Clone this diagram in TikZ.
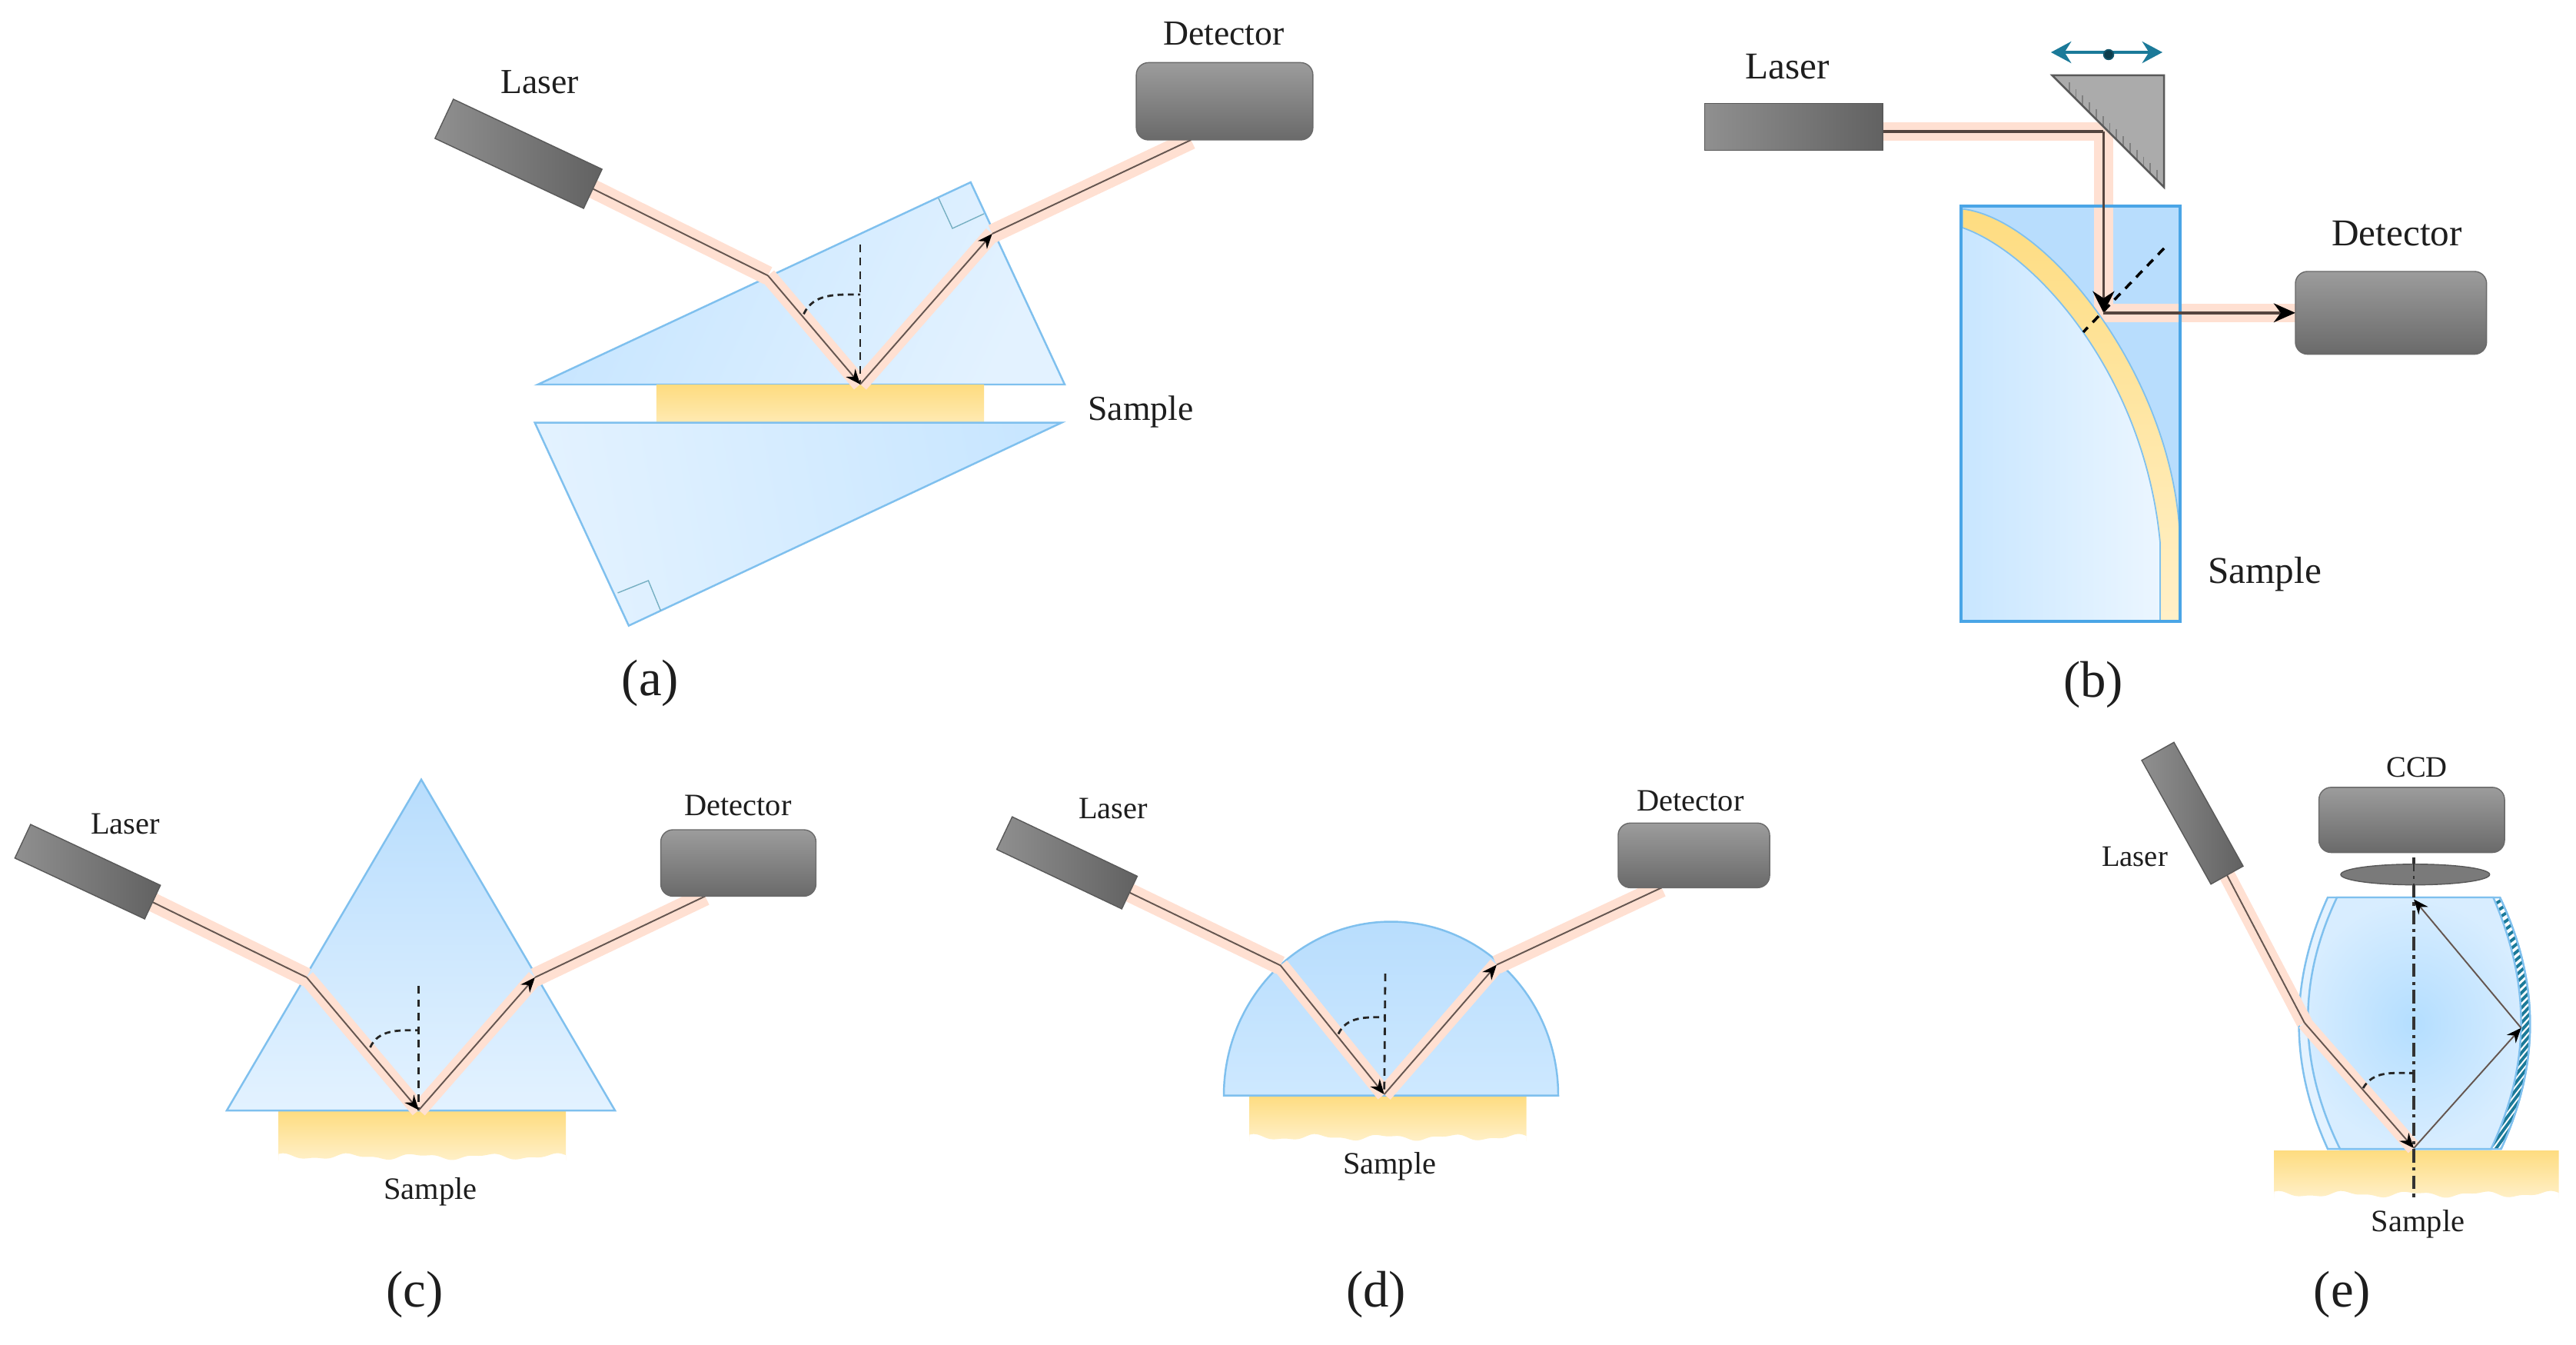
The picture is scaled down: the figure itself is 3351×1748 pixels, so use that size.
\documentclass[tikz,border=0pt]{standalone}
\usepackage{fontspec}
\setmainfont{Liberation Serif}
\usetikzlibrary{arrows.meta,shapes.geometric,calc}
\definecolor{beamc}{HTML}{FFE0D2}
\definecolor{raylc}{HTML}{655650}
\definecolor{raybc}{HTML}{54453F}
\definecolor{glassb}{HTML}{7FC0EE}
\definecolor{glassr}{HTML}{4AA5E6}
\definecolor{glassd}{HTML}{B8DDFD}
\definecolor{glassm}{HTML}{C8E6FF}
\definecolor{glassl}{HTML}{E3F2FF}
\definecolor{glassc}{HTML}{B4DEFF}
\definecolor{ya}{HTML}{FEDC80}
\definecolor{yb}{HTML}{FFF0C8}
\definecolor{tealc}{HTML}{1B7A99}
\definecolor{txt}{HTML}{1E1E1E}
\definecolor{graya}{HTML}{9C9C9C}
\definecolor{grayb}{HTML}{6A6A6A}
\pgfdeclarelayer{bg}
\pgfsetlayers{bg,main}
\tikzset{
  bsize/.style 2 args={minimum width=#1*0.2845pt,minimum height=#2*0.2845pt},
  detbox/.style={rectangle,rounded corners=4.5pt,inner sep=0,outer sep=0,top color=graya,bottom color=grayb,draw=grayb,line width=.4pt},
  laserbox/.style={rectangle,inner sep=0,outer sep=0,left color=graya!92!black,right color=grayb!92!black,draw=black!65,line width=.4pt},
  lab/.style={font=\fontsize{#1}{#1}\selectfont,text=txt,inner sep=0},
  subcap/.style={font=\fontsize{19}{19}\selectfont,text=txt,inner sep=0},
  glass/.style={draw=glassb,line width=.7pt},
  beamout/.style={draw=beamc,line width=7pt},
  beamin/.style={draw=beamc,line width=6pt},
  rayl/.style={draw=raylc,line width=.55pt},
  rayar/.style={draw=raylc,line width=.55pt,-{Stealth[length=5.5pt,width=4.5pt,black]}},
  normalln/.style={draw=black!85,line width=.8pt,dash pattern=on 2.8pt off 2.2pt},
  anglearc/.style={draw=black!85,line width=.8pt,dash pattern=on 2.2pt off 1.6pt},
  rightang/.style={draw=tealc!60,line width=.4pt},
}
\newcommand{\samplepatch}[4]{%
  \shade[top color=ya,bottom color=yb] (#1,#3) -- (#2,#3) -- (#2,#4)
    -- plot[domain=0:1,samples=70,smooth] ({#2+(#1-#2)*\x},{#4-5-3*sin(\x*1500+40)-1.5*sin(\x*3400)})
    -- (#1,#4) -- cycle;}
\begin{document}
\begin{tikzpicture}[x=0.01cm,y=-0.01cm]
\useasboundingbox (0,0) rectangle (3351,1748);

% ---------- nodes ----------
\node[laserbox,bsize={213.6}{56.3},rotate=-25.2] (laserA) at (674.5,200) {};
\node[detbox,bsize={229.6}{100.5}] (detA) at (1593,131.7) {};
\node[laserbox,bsize={231.4}{60.8}] (laserB) at (2333.3,165) {};
\node[detbox,bsize={248.6}{107.6}] (detB) at (3110.3,406.8) {};
\node[laserbox,bsize={186.4}{48.3},rotate=-25.1] (laserC) at (114,1133.5) {};
\node[detbox,bsize={201.8}{86.4}] (detC) at (960.5,1122.2) {};
\node[laserbox,bsize={180}{47},rotate=-25.4] (laserD) at (1388,1122) {};
\node[detbox,bsize={197}{84}] (detD) at (2203.5,1112.3) {};
\node[laserbox,bsize={184.4}{48},rotate=-60.8] (laserE) at (2852,1057.5) {};
\node[detbox,bsize={241.3}{84.7}] (ccd) at (3137.3,1066.2) {};
\node[ellipse,inner sep=0,outer sep=0,fill=black!52,draw=black!65,line width=.4pt,bsize={193.6}{26.9}] (lens) at (3141.8,1137.2) {};

% ---------- labels ----------
\node[lab=13] (tLaserA) at (702,107) {Laser};
\node[lab=13] (tDetA) at (1592,43.4) {Detector};
\node[lab=13] (tSamA) at (1484,535) {Sample};
\node[lab=14] (tLaserB) at (2325,87) {Laser};
\node[lab=14] (tDetB) at (3118,304) {Detector};
\node[lab=14] (tSamB) at (2946,747) {Sample};
\node[lab=11.5] (tLaserC) at (163,1071) {Laser};
\node[lab=11.5] (tDetC) at (960,1047) {Detector};
\node[lab=11.5] (tSamC) at (560,1550) {Sample};
\node[lab=11.5] (tLaserD) at (1448,1051) {Laser};
\node[lab=11.5] (tDetD) at (2199,1041.4) {Detector};
\node[lab=11.5] (tSamD) at (1807.7,1517) {Sample};
\node[lab=11] (tLaserE) at (2777,1114) {Laser};
\node[lab=11] (tCcd) at (3144,998) {CCD};
\node[lab=11.5] (tSamE) at (3145.5,1592) {Sample};
\node[subcap] (capA) at (846,888) {(a)};
\node[subcap] (capB) at (2723,890) {(b)};
\node[subcap] (capC) at (539.5,1683) {(c)};
\node[subcap] (capD) at (1790,1683) {(d)};
\node[subcap] (capE) at (3047,1683) {(e)};

% ---------- mirror and mover of (b) ----------
\coordinate (mA) at (2669.5,97.8);
\coordinate (mB) at (2815,97.8);
\coordinate (mC) at (2815,243.3);
\fill[black!33] (mA) -- (mB) -- (mC) -- cycle;
\foreach \i in {0,...,13}
  \draw[black!50,line width=.5pt] ({2691.7+8.8*\i},{119.8+8.8*\i}) -- ++(0,-13);
\draw[black!65,line width=.7pt] (mA) -- (mB) -- (mC) -- cycle;
\coordinate (movL) at (2668,68);
\coordinate (movR) at (2813,68);
\draw[tealc,line width=1pt,{Stealth[length=7.5pt,width=8pt,inset=2.5pt]}-{Stealth[length=7.5pt,width=8pt,inset=2.5pt]}] (movL) -- (movR);
\node[circle,fill=tealc!50!black,draw=tealc!70!black,line width=.5pt,inner sep=0,minimum size=3.6pt] (dotB) at (2743,71) {};

% ---------- axis of (e) over the lens ----------
\coordinate (axT) at (3140,1115);
\coordinate (axB) at (3140,1557);

\begin{pgfonlayer}{bg}
\fill[white] (0,0) rectangle (3351,1748);
% ===== (a) =====
\coordinate (a1) at (999,358.4);
\coordinate (a2) at (1119,499.7);
\coordinate (a3) at (1290.7,304);
\shadedraw[glass,left color=glassm!90!glassd,right color=glassl,shading angle=65]
  (699.7,500) -- (1262.7,237) -- (1385,500) -- cycle;
\draw[rightang] (1221,258) -- (1239,297) -- (1280,278);
\shade[top color=ya,bottom color=yb!70!ya] (853.8,500.7) rectangle (1280,549.6);
\shadedraw[glass,left color=glassl,right color=glassm,shading angle=100]
  (695.7,549.6) -- (1381,549.6) -- (817.9,813.6) -- cycle;
\draw[rightang] (803.5,771) -- (843.4,755) -- (859.4,794);
\draw[beamout] (laserA.east) -- (a1);
\draw[beamin] (a1) -- (a2);
\draw[beamin] (a2) -- (a3);
\draw[beamout] (a3) -- (detA.229.5);
\draw[normalln] (1119,317.7) -- (a2);
\draw[anglearc] (1045.5,408.4) to[out=65,in=180] (1119,383);
\draw[rayl] (laserA.east) -- (a1);
\draw[rayar] (a1) -- (a2);
\draw[rayar] (a2) -- (a3);
\draw[rayl] (a3) -- (detA.229.5);

% ===== (b) =====
\coordinate (b1) at (2736.4,171);
\coordinate (b2) at (2736.4,406.8);
\fill[glassd] (2551,267.7) rectangle (2835.6,807.6);
\draw[draw=beamc,line width=7pt] (laserB.east |- b1) -- (b1) -- (b2) -- (detB.west);
\shade[left color=glassm,right color=glassl!70!white]
  (2552.7,296) .. controls (2650,330) and (2790,490) .. (2810,706)
  -- (2810,807) -- (2552,807) -- cycle;
\shadedraw[top color=ya,bottom color=yb,draw=glassb,line width=.5pt]
  (2552.7,271.6) .. controls (2665,285) and (2825,490) .. (2835.6,695)
  -- (2835.6,807) -- (2810,807) -- (2810,706)
  .. controls (2790,490) and (2650,330) .. (2552.7,296) -- cycle;
\draw[draw=glassr,line width=1.2pt] (2551,267.7) rectangle (2835.6,807.6);
\draw[draw=black,line width=1pt,dash pattern=on 3.2pt off 2.6pt] (2815,323) -- (2710,431.8);
\draw[draw=raybc,line width=1pt] (laserB.east |- b1) -- (b1);
\draw[draw=raybc,line width=1pt,-{Stealth[length=8pt,width=8pt,black]}] (b1) -- (b2);
\draw[draw=raybc,line width=1pt,-{Stealth[length=8pt,width=7pt,black]}] (b2) -- (detB.west);

% ===== (c) =====
\coordinate (c1) at (399,1271);
\coordinate (c2) at (544.8,1443.5);
\coordinate (c3) at (695.9,1271);
\samplepatch{362}{736}{1444.7}{1509}
\shadedraw[glass,top color=glassd,bottom color=glassl]
  (295,1444) -- (548,1013.7) -- (800,1444) -- cycle;
\draw[beamout] (laserC.east) -- (c1);
\draw[beamin] (c1) -- (c2);
\draw[beamin] (c2) -- (c3);
\draw[beamout] (c3) -- (detC.225);
\draw[normalln] (544.8,1282) -- (c2);
\draw[anglearc] (481.5,1362) to[out=65,in=180] (544.8,1339.7);
\draw[rayl] (laserC.east) -- (c1);
\draw[rayar] (c1) -- (c2);
\draw[rayar] (c2) -- (c3);
\draw[rayl] (c3) -- (detC.225);

% ===== (d) =====
\coordinate (d1) at (1665.7,1255.4);
\coordinate (d2) at (1800.7,1423);
\coordinate (d3) at (1946.9,1254.6);
\samplepatch{1625}{1985.6}{1424.5}{1484}
\shadedraw[glass,top color=glassd,bottom color=glassm!80!glassl]
  (1592,1424.5) arc[start angle=180,end angle=360,x radius=217.5,y radius=226] -- cycle;
\draw[beamout] (laserD.east) -- (d1);
\draw[beamin] (d1) -- (d2);
\draw[beamin] (d2) -- (d3);
\draw[beamout] (d3) -- (detD.225.6);
\draw[normalln] (1802,1266) -- (d2);
\draw[anglearc] (1741,1344.5) to[out=65,in=180] (1802,1322.7);
\draw[rayl] (laserD.east) -- (d1);
\draw[rayar] (d1) -- (d2);
\draw[rayar] (d2) -- (d3);
\draw[rayl] (d3) -- (detD.225.6);

% ===== (e) =====
\coordinate (e1) at (2997.8,1330);
\coordinate (e2) at (3140,1493);
\coordinate (e3) at (3279.6,1336.7);
\coordinate (e4) at (3140,1169.4);
\samplepatch{2958}{3328.7}{1496}{1558}
\filldraw[fill=glassl,glass]
  (3028,1167) -- (3252,1167) .. controls (3304,1277) and (3304,1384) .. (3253.5,1494)
  -- (3028,1494) .. controls (2978,1384) and (2978,1277) .. (3028,1167) -- cycle;
\begin{scope}
\clip (3243.4,1169) .. controls (3292,1280) and (3292,1384) .. (3240.5,1493)
  -- (3253.5,1493) .. controls (3304,1384) and (3304,1277) .. (3252,1169) -- cycle;
\fill[white] (3220,1160) rectangle (3310,1500);
\foreach \k in {0,...,33}
  \draw[tealc,line width=1.1pt] (3225,{1165+10.5*\k+12+\k*0.7}) -- (3305,{1165+10.5*\k-35-\k*1.4});
\end{scope}
\shadedraw[glass,inner color=glassc,outer color=glassl!60!glassm]
  (3040,1167) -- (3243.4,1167) .. controls (3292,1280) and (3292,1384) .. (3240.5,1494)
  -- (3044,1494) .. controls (2990,1384) and (2988,1277) .. (3040,1167) -- cycle;
\draw[glass] (3252,1167) .. controls (3304,1277) and (3304,1384) .. (3253.5,1494);
\draw[draw=beamc,line width=6pt] (laserE.east) -- (e1);
\draw[draw=beamc,line width=5.5pt] (e1) -- (e2);
\draw[draw=black!80,line width=.9pt,dash pattern=on 5pt off 1.8pt on 1.2pt off 1.8pt] (axT) -- (axB);
\draw[anglearc] (3074,1415) to[out=60,in=180] (3140,1395.4);
\draw[rayl] (laserE.east) -- (e1);
\draw[rayar] (e1) -- (e2);
\draw[rayar] (e2) -- (e3);
\draw[rayar] (e3) -- (e4);
\end{pgfonlayer}
\draw[draw=black!80,line width=.8pt,dash pattern=on 5pt off 1.8pt on 1.2pt off 1.8pt] (axT) -- (3140,1160);
\end{tikzpicture}
\end{document}
